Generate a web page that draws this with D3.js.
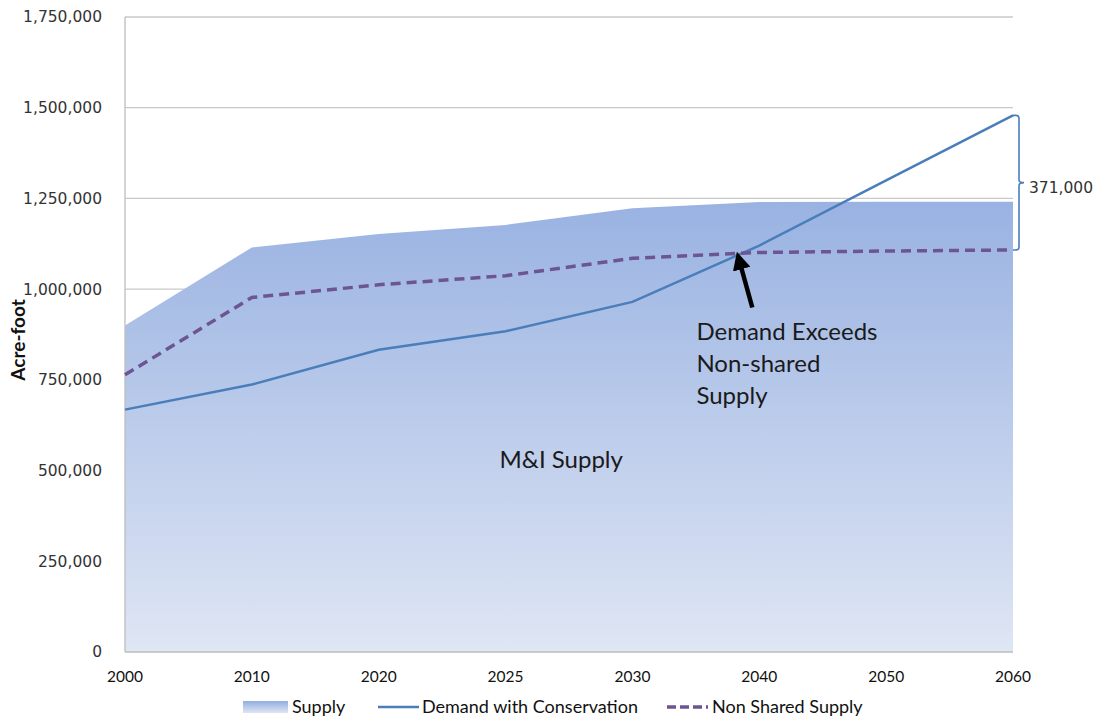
<!DOCTYPE html>
<html>
<head>
<meta charset="utf-8">
<script src="https://cdn.jsdelivr.net/npm/d3@7"></script>
<style>
  body { margin: 0; background: #fff; }
  svg { display: block; }
</style>
</head>
<body>
<svg id="chart" width="1099" height="719"></svg>
<script>
// data
const years = ["2000", "2010", "2020", "2025", "2030", "2040", "2050", "2060"];
const supply = [900000, 1115000, 1152000, 1177000, 1223000, 1240000, 1241000, 1241000];
const demand = [668000, 737000, 833000, 884000, 965000, 1120000, 1300000, 1479000];
const nonShared = [764000, 977000, 1012000, 1037000, 1085000, 1101000, 1105000, 1108000];
const yTicks = [0, 250000, 500000, 750000, 1000000, 1250000, 1500000, 1750000];
const gapLabel = "371,000";

let margin = {top: 17, right: 86, bottom: 67, left: 125};
let width = 1099 - margin.left - margin.right;
let height = 719 - margin.top - margin.bottom;

let svg = d3.select("#chart");

let defs = svg.append("defs");
let grad = defs.append("linearGradient")
    .attr("id", "supplyGrad")
    .attr("x1", 0).attr("y1", 0).attr("x2", 0).attr("y2", 1);
grad.append("stop").attr("offset", "0%").attr("stop-color", "#92ade0");
grad.append("stop").attr("offset", "100%").attr("stop-color", "#dfe6f4");

// gradient over the whole plot height
let areaGrad = defs.append("linearGradient")
    .attr("id", "areaGrad")
    .attr("gradientUnits", "userSpaceOnUse")
    .attr("x1", 0).attr("y1", 0).attr("x2", 0).attr("y2", height);
areaGrad.append("stop").attr("offset", "0%").attr("stop-color", "#8aa7de");
areaGrad.append("stop").attr("offset", "26%").attr("stop-color", "#96b0e1");
areaGrad.append("stop").attr("offset", "100%").attr("stop-color", "#dfe6f4");

defs.append("marker")
    .attr("id", "arrowHead")
    .attr("viewBox", "0 0 10 10")
    .attr("refX", 5).attr("refY", 5)
    .attr("markerWidth", 4).attr("markerHeight", 4)
    .attr("orient", "auto")
    .append("path")
    .attr("d", "M0,0 L10,5 L0,10 z")
    .attr("fill", "#000");

let g = svg.append("g")
    .attr("transform", `translate(${margin.left},${margin.top})`);

let x = d3.scalePoint()
    .domain(years)
    .range([0, width]);

let y = d3.scaleLinear()
    .domain([0, 1750000])
    .range([height, 0]);

// gridlines
g.append("g")
    .selectAll("line")
    .data(yTicks.filter(d => d > 0))
    .enter().append("line")
    .attr("x1", 0).attr("x2", width)
    .attr("y1", d => y(d)).attr("y2", d => y(d))
    .attr("stroke", "#c9c9c9")
    .attr("stroke-width", 1.3);

// supply area
let area = d3.area()
    .x((d, i) => x(years[i]))
    .y0(y(0))
    .y1(d => y(d));

g.append("path")
    .datum(supply)
    .attr("d", area)
    .attr("fill", "url(#areaGrad)");

// axis lines
g.append("line")
    .attr("x1", 0).attr("x2", 0).attr("y1", 0).attr("y2", height)
    .attr("stroke", "#bdbdbd").attr("stroke-width", 1.3);
g.append("line")
    .attr("x1", 0).attr("x2", width).attr("y1", height).attr("y2", height)
    .attr("stroke", "#bdbdbd").attr("stroke-width", 1.3);

let line = d3.line()
    .x((d, i) => x(years[i]))
    .y(d => y(d));

g.append("path")
    .datum(demand)
    .attr("d", line)
    .attr("fill", "none")
    .attr("stroke", "#4a7ebb")
    .attr("stroke-width", 2.5);

g.append("path")
    .datum(nonShared)
    .attr("d", line)
    .attr("fill", "none")
    .attr("stroke", "#6c5592")
    .attr("stroke-width", 3.5)
    .attr("stroke-dasharray", "10,6");

// y tick labels
g.append("g")
    .selectAll("text")
    .data(yTicks)
    .enter().append("text")
    .attr("x", -23)
    .attr("y", d => y(d))
    .attr("dy", "0.35em")
    .attr("text-anchor", "end")
    .attr("font-family", "DejaVu Sans, Verdana, sans-serif")
    .attr("font-size", 15.5)
    .attr("fill", "#333")
    .text(d => d3.format(",")(d));

// x tick labels
g.append("g")
    .selectAll("text")
    .data(years)
    .enter().append("text")
    .attr("x", d => x(d))
    .attr("y", height + 25)
    .attr("dy", "0.35em")
    .attr("text-anchor", "middle")
    .attr("font-family", "Lato, sans-serif")
    .attr("font-size", 15.5)
    .attr("fill", "#111")
    .text(d => d);

// y axis title
svg.append("text")
    .attr("transform", `translate(25,${margin.top + y(860000)}) rotate(-90)`)
    .attr("text-anchor", "middle")
    .attr("font-family", "Lato, sans-serif")
    .attr("font-weight", "bold")
    .attr("font-size", 19)
    .attr("fill", "#111")
    .text("Acre-foot");

// M&I label
g.append("text")
    .attr("x", x("2025") - 6)
    .attr("y", y(530000))
    .attr("dy", "0.35em")
    .attr("font-family", "Lato, sans-serif")
    .attr("font-size", 24)
    .attr("fill", "#1a1a1a")
    .text("M&I Supply");

// crossing annotation
let crossX = x("2040") - 22;
let crossY = y(1101000);
g.append("line")
    .attr("x1", crossX + 15).attr("y1", crossY + 55)
    .attr("x2", crossX + 2).attr("y2", crossY + 8)
    .attr("stroke", "#000")
    .attr("stroke-width", 4.5)
    .attr("marker-end", "url(#arrowHead)");

let noteLines = ["Demand Exceeds", "Non-shared", "Supply"];
g.append("text")
    .attr("font-family", "Lato, sans-serif")
    .attr("font-size", 24)
    .attr("fill", "#1a1a1a")
    .selectAll("tspan")
    .data(noteLines)
    .enter().append("tspan")
    .attr("x", x("2030") + 64)
    .attr("y", (d, i) => crossY + 88 + i * 32)
    .text(d => d);

// bracket for the 2060 gap
let bx = width;
let yTop = y(demand[7]);
let yBot = y(nonShared[7]);
let yMid = (yTop + yBot) / 2;
let br = d3.path();
br.moveTo(bx, yTop);
br.lineTo(bx + 3, yTop);
br.quadraticCurveTo(bx + 6, yTop, bx + 6, yTop + 3);
br.lineTo(bx + 6, yMid - 3);
br.quadraticCurveTo(bx + 6, yMid, bx + 11, yMid);
br.moveTo(bx + 11, yMid);
br.quadraticCurveTo(bx + 6, yMid, bx + 6, yMid + 3);
br.lineTo(bx + 6, yBot - 3);
br.quadraticCurveTo(bx + 6, yBot, bx + 3, yBot);
br.lineTo(bx, yBot);
g.append("path")
    .attr("d", br.toString())
    .attr("fill", "none")
    .attr("stroke", "#4a7ebb")
    .attr("stroke-width", 1.6);

g.append("text")
    .attr("x", bx + 16)
    .attr("y", yMid + 5)
    .attr("dy", "0.35em")
    .attr("font-family", "DejaVu Sans, Verdana, sans-serif")
    .attr("font-size", 15.5)
    .attr("fill", "#333")
    .text(gapLabel);

// legend
let legend = svg.append("g")
    .attr("transform", "translate(0,707)");
let legendFont = "Lato, sans-serif";

legend.append("rect")
    .attr("x", 243).attr("y", -6)
    .attr("width", 45).attr("height", 12)
    .attr("fill", "url(#supplyGrad)");
legend.append("text")
    .attr("x", 292).attr("dy", "0.35em")
    .attr("font-family", legendFont).attr("font-size", 18).attr("fill", "#111")
    .text("Supply");

legend.append("line")
    .attr("x1", 378).attr("x2", 419).attr("y1", 0).attr("y2", 0)
    .attr("stroke", "#4a7ebb").attr("stroke-width", 2.5);
legend.append("text")
    .attr("x", 422).attr("dy", "0.35em")
    .attr("font-family", legendFont).attr("font-size", 18).attr("fill", "#111")
    .text("Demand with Conservation");

legend.append("line")
    .attr("x1", 667).attr("x2", 708).attr("y1", 0).attr("y2", 0)
    .attr("stroke", "#6c5592").attr("stroke-width", 3.5)
    .attr("stroke-dasharray", "9,4");
legend.append("text")
    .attr("x", 712).attr("dy", "0.35em")
    .attr("font-family", legendFont).attr("font-size", 18).attr("fill", "#111")
    .text("Non Shared Supply");
</script>
</body>
</html>
